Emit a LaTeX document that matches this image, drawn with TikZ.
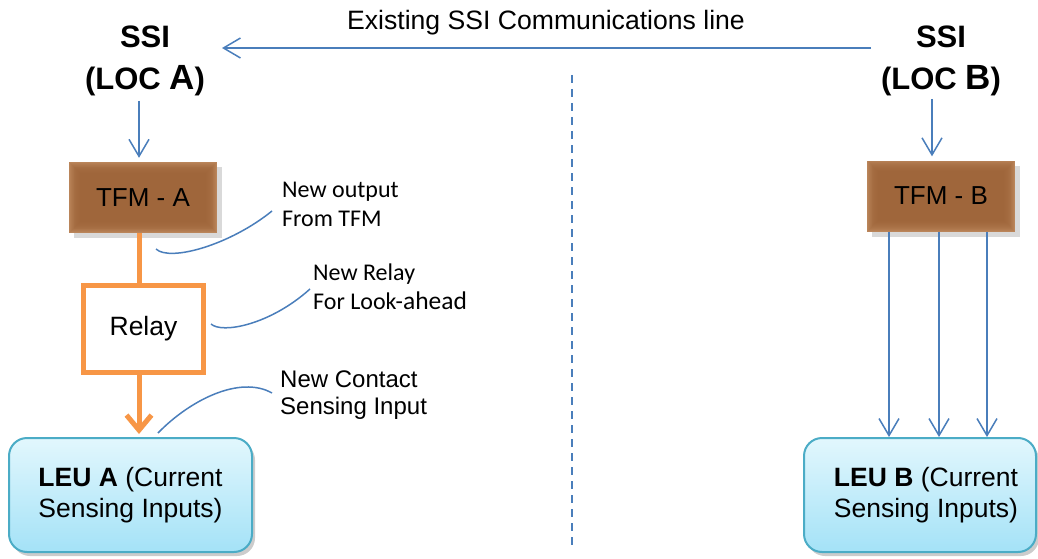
\documentclass[tikz,border=0pt]{standalone}
\usepackage{fontspec}
\setmainfont{Liberation Sans}
\newfontfamily\calfont{Carlito}
\usetikzlibrary{arrows.meta,shadows,calc}

\definecolor{lineblue}{RGB}{74,126,187}
\definecolor{relayorange}{RGB}{247,150,70}
\definecolor{tfmbrown}{RGB}{158,101,58}
\definecolor{tfmedge}{RGB}{186,133,90}
\definecolor{leuedge}{RGB}{75,172,198}
\definecolor{leutop}{RGB}{226,247,253}
\definecolor{leubot}{RGB}{164,226,247}

\begin{document}
\begin{tikzpicture}[x=1pt,y=-1pt,
  bluearrow/.style={draw=lineblue, line width=1.5pt,
    -{Straight Barb[length=17pt,width=20pt]}},
  callout/.style={draw=lineblue, line width=1.5pt},
  ssilabel/.style={font=\bfseries\fontsize{31}{42}\selectfont, align=center,
    anchor=north, inner sep=0pt},
  tfmbox/.style={fill=tfmedge, draw=none,
    minimum width=148pt, minimum height=71pt, inner sep=0pt,
    font=\fontsize{26}{30}\selectfont,
    path picture={
      \foreach \k in {1,...,12} {
        \fill[tfmbrown, opacity=0.16]
          ([shift={(\k*0.9pt,-\k*0.9pt)}]path picture bounding box.north west)
          rectangle
          ([shift={(-\k*0.9pt,\k*0.9pt)}]path picture bounding box.south east);
      }
    },
    drop shadow={shadow xshift=5pt, shadow yshift=-5pt, opacity=0.3}},
  relaybox/.style={draw=relayorange, fill=white, line width=5pt,
    minimum width=120pt, minimum height=87pt, inner sep=0pt,
    font=\fontsize{26.5}{30}\selectfont},
  leubox/.style={draw=leuedge, line width=2pt, rounded corners=18pt,
    top color=leutop, bottom color=leubot, align=center,
    minimum height=114pt, inner sep=0pt,
    font=\fontsize{26.5}{31}\selectfont,
    drop shadow={shadow xshift=3pt, shadow yshift=-4pt, opacity=0.4}},
  note/.style={anchor=north west, align=left, inner sep=0pt},
  calnote/.style={note, font=\calfont\fontsize{24}{29}\selectfont},
  arialnote/.style={note, font=\fontsize{24}{27}\selectfont},
  orangeline/.style={draw=relayorange, line width=5pt},
  divider/.style={draw=lineblue, line width=1.5pt, dash pattern=on 8pt off 6pt}
]
\useasboundingbox (0,0) rectangle (1038,559);

% heading over the communications line
\node[font=\fontsize{26.6}{30}\selectfont, anchor=base] (commtitle) at (546,30)
  {Existing SSI Communications line};

% interlockings
\node[ssilabel] (ssia) at (145,26) {SSI\\(LOC {\fontsize{35}{42}\selectfont A})};
\node[ssilabel] (ssib) at (941,26) {SSI\\(LOC {\fontsize{35}{42}\selectfont B})};

% communications line between the two sites
\coordinate (commB) at (871,48);
\coordinate (commA) at (222,48);
\draw[bluearrow] (commB) -- (commA);

% site boundary
\coordinate (divtop) at (572,75);
\coordinate (divbot) at (572,548);
\draw[divider] (divtop) -- (divbot);

% track function modules
\node[tfmbox] (tfma) at (143,197.5) {TFM - A};
\node[tfmbox] (tfmb) at (941,196) {TFM - B};

\draw[bluearrow, shorten >=4pt] (139,101) coordinate (ssiaout) -- (ssiaout |- tfma.north);
\draw[bluearrow, shorten >=4pt] (932,99) coordinate (ssibout) -- (ssibout |- tfmb.north);

% look-ahead relay
\node[relaybox] (relay) at (143.5,329) {Relay};

% LEUs
\node[leubox, minimum width=243pt] (leua) at (130.5,495)
  {\textbf{LEU A} (Current\\Sensing Inputs)};
\node[leubox, minimum width=232pt] (leub) at (920,495)
  {\hspace*{12pt}\textbf{LEU B} (Current\\\hspace*{12pt}Sensing Inputs)};

% relay wiring at site A
\coordinate (tapa) at (139,0);
\draw[orangeline] (tapa |- tfma.south) -- (tapa |- relay.north);
\draw[orangeline, shorten >=3pt,
  -{Straight Barb[length=15pt,width=25pt]}] (tapa |- relay.south) -- (tapa |- leua.north);

% direct outputs at site B
\foreach \xx/\nm in {889/b1, 939/b2, 987/b3} {
  \coordinate (\nm) at (\xx,0);
  \draw[bluearrow] (\nm |- tfmb.south) -- (\nm |- leub.north);
}

% annotations
\node[calnote] (noteout) at (282,182) {New output\\From TFM};
\node[calnote] (noterelay) at (313,264)
  {New Relay\\For Look-{\fontsize{25.5}{29}\selectfont ahead}};
\node[arialnote] (notecontact) at (280,371) {New Contact\\Sensing Input};

\coordinate (p1s) at (156,249);
\coordinate (p1e) at (272,211);
\draw[callout] (p1s) .. controls (170,262) and (230,245) .. (p1e);

\coordinate (p2s) at (211,324);
\coordinate (p2e) at (310,289);
\draw[callout] (p2s) .. controls (222,334) and (270,325) .. (p2e);

\coordinate (p3s) at (158,433);
\coordinate (p3e) at (272,393);
\draw[callout] (p3s) .. controls (190,400) and (240,375) .. (p3e);
\end{tikzpicture}
\end{document}
